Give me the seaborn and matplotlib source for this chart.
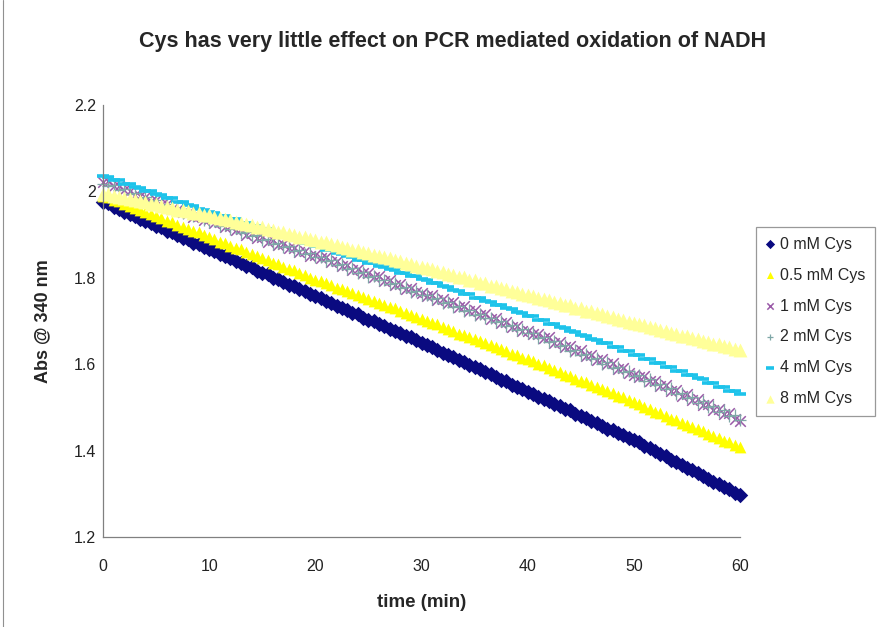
import numpy as np
import pandas as pd
import matplotlib
matplotlib.use("Agg")
import matplotlib.pyplot as plt
import seaborn as sns

# sampling times (min), one reading every 0.5 min
time_min = np.arange(0, 60.5, 0.5)

cys_0 = [1.975, 1.972, 1.963, 1.960, 1.953, 1.948, 1.944, 1.935, 1.932, 1.926, 1.920, 1.917, 1.908, 1.905, 1.899, 1.893, 1.889, 1.880, 1.878, 1.871,
         1.866, 1.862, 1.855, 1.851, 1.845, 1.838, 1.835, 1.827, 1.824, 1.816, 1.811, 1.808, 1.800, 1.797, 1.790, 1.784, 1.781, 1.773, 1.769, 1.763,
         1.757, 1.753, 1.746, 1.742, 1.735, 1.731, 1.725, 1.718, 1.716, 1.708, 1.703, 1.699, 1.692, 1.689, 1.682, 1.676, 1.673, 1.665, 1.662, 1.655,
         1.650, 1.645, 1.639, 1.634, 1.627, 1.622, 1.617, 1.610, 1.606, 1.599, 1.593, 1.589, 1.581, 1.577, 1.571, 1.564, 1.561, 1.553, 1.548, 1.543,
         1.536, 1.532, 1.525, 1.520, 1.514, 1.508, 1.504, 1.497, 1.493, 1.485, 1.480, 1.476, 1.469, 1.464, 1.458, 1.451, 1.448, 1.440, 1.436, 1.429,
         1.424, 1.419, 1.411, 1.406, 1.398, 1.392, 1.387, 1.379, 1.374, 1.366, 1.360, 1.355, 1.347, 1.342, 1.335, 1.328, 1.323, 1.315, 1.310, 1.302,
         1.297]

cys_05 = [1.990, 1.986, 1.980, 1.977, 1.971, 1.966, 1.962, 1.956, 1.953, 1.947, 1.942, 1.939, 1.932, 1.929, 1.923, 1.918, 1.914, 1.908, 1.905, 1.898,
          1.894, 1.890, 1.884, 1.880, 1.874, 1.870, 1.866, 1.859, 1.856, 1.850, 1.845, 1.841, 1.835, 1.831, 1.825, 1.821, 1.817, 1.810, 1.807, 1.800,
          1.796, 1.792, 1.787, 1.783, 1.777, 1.774, 1.769, 1.764, 1.761, 1.755, 1.751, 1.747, 1.741, 1.738, 1.732, 1.729, 1.724, 1.718, 1.715, 1.709,
          1.705, 1.701, 1.695, 1.692, 1.686, 1.682, 1.677, 1.671, 1.668, 1.662, 1.658, 1.654, 1.648, 1.645, 1.639, 1.635, 1.630, 1.624, 1.621, 1.615,
          1.611, 1.607, 1.601, 1.597, 1.591, 1.587, 1.582, 1.576, 1.573, 1.566, 1.562, 1.558, 1.551, 1.548, 1.542, 1.537, 1.533, 1.526, 1.523, 1.516,
          1.512, 1.507, 1.501, 1.497, 1.490, 1.486, 1.481, 1.474, 1.471, 1.464, 1.460, 1.455, 1.449, 1.445, 1.438, 1.434, 1.429, 1.422, 1.419, 1.412,
          1.408]

cys_1 = [2.022, 2.024, 2.013, 2.012, 2.003, 2.001, 1.992, 1.989, 1.986, 1.978, 1.980, 1.968, 1.970, 1.960, 1.958, 1.952, 1.950, 1.941, 1.943, 1.934,
         1.935, 1.928, 1.929, 1.918, 1.920, 1.910, 1.912, 1.900, 1.903, 1.893, 1.895, 1.884, 1.887, 1.876, 1.878, 1.868, 1.870, 1.859, 1.862, 1.851,
         1.852, 1.846, 1.847, 1.836, 1.839, 1.828, 1.830, 1.819, 1.821, 1.810, 1.812, 1.801, 1.804, 1.793, 1.795, 1.784, 1.786, 1.775, 1.777, 1.767,
         1.765, 1.759, 1.760, 1.749, 1.752, 1.741, 1.743, 1.732, 1.734, 1.723, 1.725, 1.714, 1.716, 1.705, 1.707, 1.696, 1.698, 1.687, 1.689, 1.678,
         1.676, 1.670, 1.671, 1.660, 1.662, 1.650, 1.652, 1.640, 1.642, 1.630, 1.632, 1.620, 1.622, 1.610, 1.612, 1.600, 1.602, 1.590, 1.592, 1.580,
         1.576, 1.570, 1.572, 1.560, 1.562, 1.549, 1.551, 1.538, 1.541, 1.527, 1.530, 1.517, 1.519, 1.506, 1.508, 1.495, 1.497, 1.484, 1.486, 1.473,
         1.468]

cys_2 = [2.018, 2.012, 2.014, 2.003, 2.005, 1.994, 1.996, 1.985, 1.988, 1.977, 1.979, 1.968, 1.971, 1.960, 1.962, 1.951, 1.953, 1.942, 1.944, 1.933,
         1.930, 1.931, 1.921, 1.923, 1.913, 1.915, 1.904, 1.907, 1.896, 1.898, 1.887, 1.890, 1.879, 1.881, 1.871, 1.873, 1.862, 1.865, 1.854, 1.857,
         1.848, 1.849, 1.838, 1.841, 1.829, 1.832, 1.820, 1.823, 1.811, 1.814, 1.803, 1.805, 1.794, 1.796, 1.785, 1.787, 1.776, 1.779, 1.767, 1.770,
         1.760, 1.761, 1.750, 1.753, 1.741, 1.744, 1.732, 1.735, 1.723, 1.726, 1.715, 1.717, 1.706, 1.708, 1.697, 1.700, 1.688, 1.691, 1.679, 1.682,
         1.672, 1.673, 1.661, 1.664, 1.651, 1.654, 1.641, 1.644, 1.631, 1.634, 1.621, 1.624, 1.611, 1.614, 1.601, 1.604, 1.591, 1.594, 1.581, 1.584,
         1.573, 1.574, 1.562, 1.565, 1.552, 1.555, 1.542, 1.545, 1.532, 1.534, 1.521, 1.524, 1.511, 1.514, 1.501, 1.503, 1.490, 1.493, 1.480, 1.483,
         1.470]

cys_4 = [2.035, 2.033, 2.026, 2.026, 2.018, 2.017, 2.010, 2.009, 2.001, 2.000, 1.993, 1.992, 1.985, 1.984, 1.976, 1.975, 1.968, 1.967, 1.960, 1.958,
         1.952, 1.951, 1.944, 1.943, 1.936, 1.935, 1.928, 1.927, 1.920, 1.919, 1.913, 1.912, 1.905, 1.904, 1.897, 1.896, 1.889, 1.888, 1.881, 1.880,
         1.873, 1.872, 1.865, 1.864, 1.857, 1.856, 1.850, 1.849, 1.842, 1.841, 1.835, 1.834, 1.827, 1.826, 1.820, 1.819, 1.812, 1.811, 1.805, 1.804,
         1.797, 1.796, 1.788, 1.787, 1.780, 1.779, 1.771, 1.770, 1.763, 1.762, 1.754, 1.753, 1.746, 1.745, 1.737, 1.736, 1.729, 1.728, 1.720, 1.719,
         1.712, 1.711, 1.703, 1.702, 1.694, 1.693, 1.685, 1.684, 1.676, 1.675, 1.667, 1.666, 1.658, 1.657, 1.649, 1.648, 1.640, 1.639, 1.631, 1.630,
         1.622, 1.621, 1.613, 1.612, 1.603, 1.602, 1.594, 1.593, 1.585, 1.584, 1.576, 1.575, 1.567, 1.566, 1.557, 1.556, 1.548, 1.547, 1.539, 1.538,
         1.530]

cys_8 = [1.995, 1.994, 1.990, 1.988, 1.985, 1.982, 1.980, 1.977, 1.975, 1.971, 1.970, 1.967, 1.964, 1.962, 1.958, 1.957, 1.954, 1.951, 1.949, 1.946,
         1.945, 1.941, 1.939, 1.935, 1.934, 1.930, 1.928, 1.924, 1.923, 1.918, 1.917, 1.913, 1.911, 1.907, 1.906, 1.901, 1.900, 1.895, 1.894, 1.889,
         1.888, 1.884, 1.882, 1.878, 1.876, 1.872, 1.870, 1.865, 1.864, 1.859, 1.858, 1.853, 1.851, 1.847, 1.845, 1.841, 1.839, 1.834, 1.833, 1.828,
         1.826, 1.822, 1.820, 1.815, 1.814, 1.809, 1.807, 1.802, 1.801, 1.795, 1.794, 1.789, 1.787, 1.782, 1.781, 1.776, 1.774, 1.769, 1.768, 1.762,
         1.760, 1.757, 1.754, 1.750, 1.748, 1.744, 1.742, 1.737, 1.736, 1.731, 1.729, 1.724, 1.723, 1.718, 1.716, 1.711, 1.710, 1.705, 1.703, 1.698,
         1.695, 1.692, 1.690, 1.685, 1.684, 1.679, 1.677, 1.673, 1.671, 1.666, 1.665, 1.660, 1.658, 1.654, 1.652, 1.647, 1.646, 1.641, 1.639, 1.635,
         1.632]

labels = ["0 mM Cys", "0.5 mM Cys", "1 mM Cys", "2 mM Cys", "4 mM Cys", "8 mM Cys"]
series = [cys_0, cys_05, cys_1, cys_2, cys_4, cys_8]

# marker, colour, size, linewidth for each series
styles = [
    ("D", "#0a0a80", 62, 0.0),
    ("^", "#ffff00", 72, 0.0),
    ("x", "#9a5aa8", 58, 1.1),
    ("+", "#7fa7a7", 64, 0.9),
    ("_", "#1ec3ea", 80, 2.6),
    ("^", "#ffff99", 100, 0.0),
]

sns.set_style("white")
plt.rcParams["font.family"] = ["Liberation Sans", "DejaVu Sans"]

fig = plt.figure(figsize=(8.83, 6.27), dpi=100)
ax = fig.add_axes([103 / 883, 1 - 537 / 627, 637 / 883, 432 / 627])

for vals, lab, (mk, col, sz, lw) in zip(series, labels, styles):
    df = pd.DataFrame({"time": time_min, "abs": vals})
    if lw == 0:
        sns.scatterplot(data=df, x="time", y="abs", ax=ax, marker=mk, color=col,
                        s=sz, linewidth=0, label=lab, clip_on=False)
    else:
        sns.scatterplot(data=df, x="time", y="abs", ax=ax, marker=mk, color=col,
                        s=sz, linewidths=lw, label=lab, clip_on=False)

ax.set_xlim(0, 60)
ax.set_ylim(1.2, 2.2)
ax.set_xticks([0, 10, 20, 30, 40, 50, 60])
ax.set_yticks([1.2, 1.4, 1.6, 1.8, 2.0, 2.2])
ax.set_yticklabels(["1.2", "1.4", "1.6", "1.8", "2", "2.2"])
ax.tick_params(axis="both", direction="inout", length=6, width=0.8, color="#808080",
               labelsize=11.5, labelcolor="#222222")
ax.tick_params(axis="x", pad=13)
ax.tick_params(axis="y", pad=2)
for s in ["top", "right"]:
    ax.spines[s].set_visible(False)
for s in ["left", "bottom"]:
    ax.spines[s].set_color("#808080")
    ax.spines[s].set_linewidth(0.9)

ax.set_xlabel("time (min)", fontsize=13.5, fontweight="bold", labelpad=14)
ax.set_ylabel("Abs @ 340 nm", fontsize=13, fontweight="bold", labelpad=16)

fig.text(453 / 883, 1 - 42 / 627, "Cys has very little effect on PCR mediated oxidation of NADH",
         ha="center", va="center", fontsize=15.5, fontweight="bold")

ax.get_legend().remove()
handles, labs = ax.get_legend_handles_labels()
leg = fig.legend(handles, labs, loc="upper left", bbox_to_anchor=(756 / 883, 1 - 227 / 627),
                 borderaxespad=0, frameon=True, fancybox=False, fontsize=11.5, handletextpad=0.3,
                 handlelength=0.6, labelspacing=1.0, borderpad=0.6, markerscale=0.6)
leg.get_frame().set_edgecolor("#808080")
leg.get_frame().set_linewidth(0.9)

# thin outer chart border on the left edge
fig.add_artist(plt.Line2D([3 / 883, 3 / 883], [0, 1], color="#909090", linewidth=0.8))

fig.savefig("out.png", dpi=100, facecolor="white")
